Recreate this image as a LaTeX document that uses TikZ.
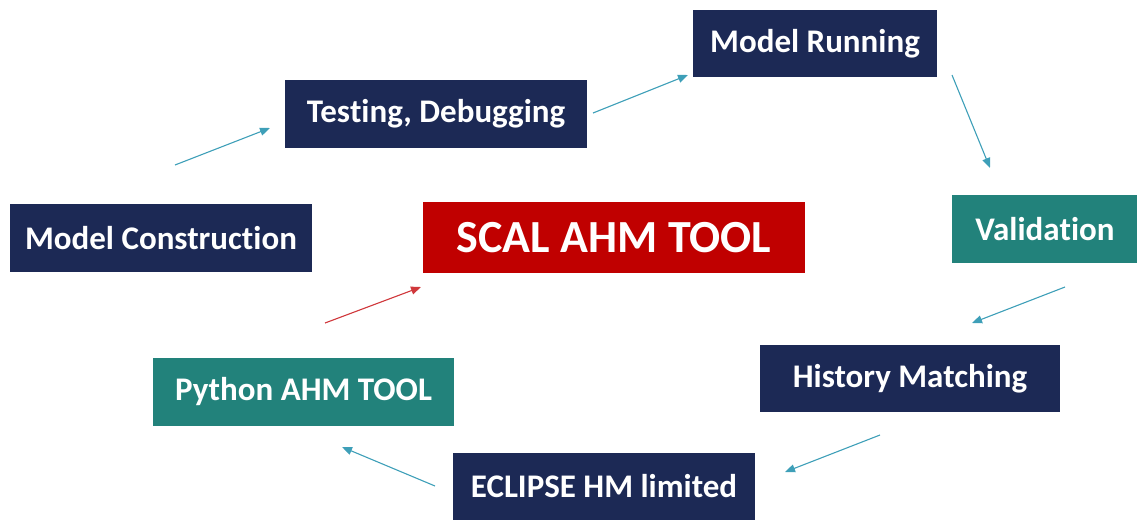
\documentclass[tikz,border=0pt]{standalone}
\usepackage{fontspec}
\setmainfont{Carlito}[RawFeature={-liga;-clig;-dlig;-calt}]
\usetikzlibrary{arrows.meta}
\definecolor{navy}{HTML}{1C2955}
\definecolor{tealbox}{HTML}{22827B}
\definecolor{redbox}{HTML}{C00000}
\definecolor{arrowblue}{HTML}{3E9FB8}
\definecolor{arrowred}{HTML}{D0383C}
\tikzset{
  boxbase/.style={anchor=center, inner sep=0pt, text=white, font=\bfseries\fontsize{33}{36}\selectfont},
  navybox/.style={boxbase, fill=navy},
  tealnode/.style={boxbase, fill=tealbox},
  rednode/.style={boxbase, fill=redbox, font=\bfseries\fontsize{46}{50}\selectfont},
  flow/.style={draw=arrowblue, line width=1.1pt, -{Triangle[length=10pt,width=8pt]}},
  flowred/.style={draw=arrowred, line width=1.1pt, -{Triangle[length=10pt,width=8pt]}},
}
\begin{document}
\begin{tikzpicture}[x=1pt,y=-1pt]
\useasboundingbox (0,0) rectangle (1137,520);
\node[navybox, minimum width=244pt, minimum height=67pt] (run) at (815,43.5) {Model Running};
\node[navybox, minimum width=302pt, minimum height=68pt] (test) at (436,114) {Tes\kern0pt ting, Debugging};
\node[navybox, minimum width=302pt, minimum height=68pt] (cons) at (161,238) {Model Construc\kern0pt tion};
\node[rednode, minimum width=382pt, minimum height=71pt] (scal) at (614,237.5) {SCAL AHM TOOL};
\node[tealnode, minimum width=186pt, minimum height=68pt] (val) at (1045,229) {Valida\kern0pt tion};
\node[navybox, minimum width=300pt, minimum height=67pt] (hist) at (910,378.5) {History Matching};
\node[tealnode, minimum width=301pt, minimum height=68pt] (py) at (303.5,392) {Python AHM TOOL};
\node[navybox, minimum width=302pt, minimum height=67pt] (ecl) at (604,486.5) {ECLIPSE HM limited};
\coordinate (a1s) at (175,165); \coordinate (a1e) at (270,128);
\coordinate (a2s) at (593,113); \coordinate (a2e) at (688,75);
\coordinate (a3s) at (952,75);  \coordinate (a3e) at (990,168);
\coordinate (a4s) at (1065,287); \coordinate (a4e) at (972,323);
\coordinate (a5s) at (880,435); \coordinate (a5e) at (785,472);
\coordinate (a6s) at (435,486); \coordinate (a6e) at (342,447);
\coordinate (a7s) at (325,323); \coordinate (a7e) at (421,287);
\draw[flow] (a1s) -- (a1e);
\draw[flow] (a2s) -- (a2e);
\draw[flow] (a3s) -- (a3e);
\draw[flow] (a4s) -- (a4e);
\draw[flow] (a5s) -- (a5e);
\draw[flow] (a6s) -- (a6e);
\draw[flowred] (a7s) -- (a7e);
\end{tikzpicture}
\end{document}
